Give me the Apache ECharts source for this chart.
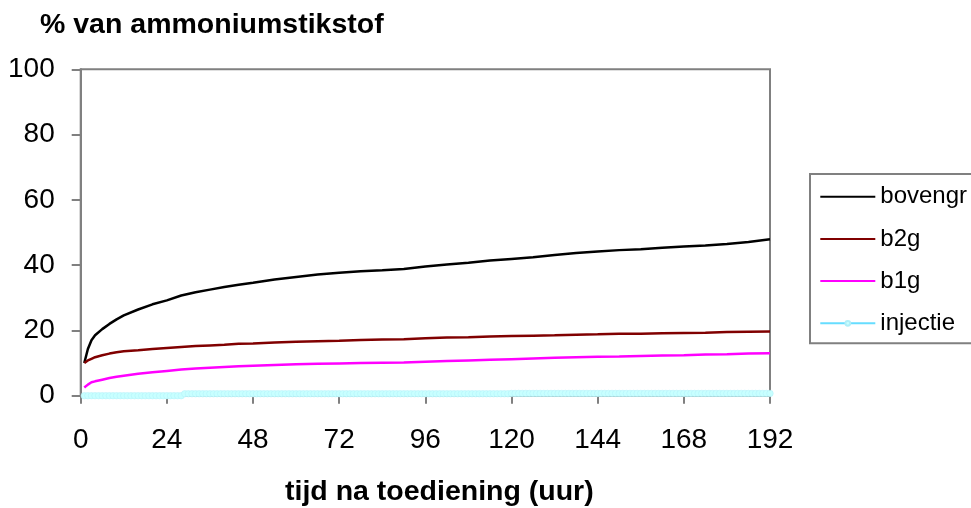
<!DOCTYPE html>
<html>
<head>
<meta charset="utf-8">
<script src="https://cdn.jsdelivr.net/npm/echarts@6/dist/echarts.min.js"></script>
<style>
html,body{margin:0;padding:0;background:#fff;}
#c{width:971px;height:508px;}
</style>
</head>
<body>
<div id="c"></div>
<script>
const hours = [1,2,3,4,6,8,10,12,16,20,24,28,32,36,40,44,48,54,60,66,72,78,84,90,96,102,108,114,120,126,132,138,144,150,156,162,168,174,180,186,192];
const bovengr = [10.0,14.3,17.0,18.5,20.4,22.0,23.4,24.6,26.4,28.0,29.2,30.7,31.7,32.5,33.3,34.0,34.6,35.6,36.4,37.1,37.7,38.1,38.4,38.8,39.6,40.2,40.7,41.4,41.9,42.4,43.1,43.7,44.2,44.6,44.9,45.3,45.7,46.0,46.5,47.1,47.9];
const b2g = [10.0,10.8,11.3,11.8,12.4,12.9,13.3,13.6,13.9,14.3,14.6,14.9,15.2,15.4,15.6,15.9,16.0,16.3,16.5,16.7,16.8,17.1,17.2,17.3,17.6,17.8,17.9,18.1,18.3,18.4,18.5,18.7,18.8,19.0,19.0,19.1,19.2,19.3,19.5,19.6,19.7];
const b1g = [2.5,3.4,4.1,4.4,4.9,5.4,5.8,6.1,6.7,7.2,7.6,8.0,8.3,8.6,8.8,9.0,9.2,9.4,9.6,9.8,9.9,10.0,10.1,10.2,10.4,10.6,10.8,11.0,11.2,11.4,11.6,11.8,11.9,12.0,12.2,12.3,12.4,12.6,12.7,12.9,13.0];
// injectie: hourly values, hour 1 .. 192
const injectie = [
0,0,0,0,0,0,0,0,0,0,
0,0,0,0,0,0,0,0,0,0,
0,0,0,0,0,0,0,0,
0.6,0.6,0.6,0.6,0.6,0.6,0.6,0.6,0.6,0.6,
0.6,0.6,0.6,0.6,0.6,0.6,0.6,0.6,0.6,0.6,
0.6,0.6,0.6,0.6,0.6,0.6,0.6,0.6,0.6,0.6,
0.6,0.6,0.6,0.6,0.6,0.6,0.6,0.6,0.6,0.6,
0.6,0.6,0.6,0.6,0.6,0.6,0.6,0.6,0.6,0.6,
0.6,0.6,0.6,0.6,0.6,0.6,0.6,0.6,0.6,0.6,
0.6,0.6,0.6,0.6,0.6,0.6,0.6,0.6,0.6,0.6,
0.6,0.6,0.6,0.6,0.6,0.6,0.6,0.6,0.6,0.6,
0.6,0.6,0.6,0.6,0.6,0.6,0.6,0.6,0.6,0.6,
0.6,
0.7,0.7,0.7,0.7,0.7,0.7,0.7,0.7,0.7,0.7,
0.7,0.7,0.7,0.7,0.7,0.7,0.7,0.7,0.7,0.7,
0.7,0.7,0.7,0.7,0.7,0.7,0.7,0.7,0.7,0.7,
0.7,0.7,0.7,0.7,0.7,0.7,0.7,0.7,0.7,0.7,
0.7,0.7,0.7,0.7,0.7,0.7,0.7,0.7,0.7,0.7,
0.7,0.7,0.7,0.7,0.7,0.7,0.7,0.7,0.7,0.7,
0.7,0.7,0.7,0.7,0.7,0.7,0.7,0.7,0.7,0.7,
0.7,0.7,0.7
];
const xTicks = {min: 0, max: 192, interval: 24};
const yTicks = {min: 0, max: 100, interval: 20};
const seriesNames = ['bovengr', 'b2g', 'b1g', 'injectie'];

const FONT = "'Liberation Sans', Arial, sans-serif";
const pair = (xs, ys) => ys.map((v, i) => [xs[i], v]);
const injPairs = injectie.map((v, i) => [i + 1, v]);

const chart = echarts.init(document.getElementById('c'), null, {renderer: 'canvas'});
chart.setOption({
  animation: false,
  backgroundColor: '#ffffff',
  title: {
    text: '% van ammoniumstikstof',
    left: 40, top: 11, padding: 0,
    textStyle: {fontFamily: FONT, fontWeight: 'bold', fontSize: 28.5, color: '#000', lineHeight: 28}
  },
  grid: {
    left: 80.7, right: 201, top: 69.3, bottom: 112.3,
    show: true, borderColor: '#808080', borderWidth: 2, backgroundColor: 'transparent',
    containLabel: false, outerBoundsMode: 'none'
  },
  legend: {
    left: 810, top: 174,
    orient: 'vertical',
    padding: [10.7, 40, 8, 9.3],
    itemGap: 18.2,
    itemWidth: 55, itemHeight: 6,
    borderColor: '#808080', borderWidth: 2,
    backgroundColor: '#fff',
    textStyle: {fontFamily: FONT, fontSize: 24, color: '#000', lineHeight: 24},
    data: [
      {name: seriesNames[0], itemStyle: {opacity: 0}},
      {name: seriesNames[1], itemStyle: {opacity: 0}},
      {name: seriesNames[2], itemStyle: {opacity: 0}},
      {name: seriesNames[3]}
    ]
  },
  xAxis: {
    type: 'value',
    min: xTicks.min, max: xTicks.max, interval: xTicks.interval,
    name: 'tijd na toediening (uur)',
    nameLocation: 'middle',
    nameGap: 82,
    nameTextStyle: {fontFamily: FONT, fontWeight: 'bold', fontSize: 28.5, color: '#000', lineHeight: 28, padding: [0, 0, 0, 28]},
    axisLine: {show: true, lineStyle: {color: '#808080', width: 2}},
    axisTick: {show: true, inside: false, length: 8, lineStyle: {color: '#808080', width: 2}},
    axisLabel: {fontFamily: FONT, fontSize: 28, color: '#000', margin: 31},
    splitLine: {show: false}
  },
  yAxis: {
    type: 'value',
    min: yTicks.min, max: yTicks.max, interval: yTicks.interval,
    axisLine: {show: true, lineStyle: {color: '#808080', width: 2}},
    axisTick: {show: true, inside: false, length: 9, lineStyle: {color: '#808080', width: 2}},
    axisLabel: {fontFamily: FONT, fontSize: 28, color: '#000', margin: 26},
    splitLine: {show: false}
  },
  series: [
    {name: seriesNames[0], type: 'line', data: pair(hours, bovengr), symbol: 'none',
     lineStyle: {color: '#000000', width: 2.5}, itemStyle: {color: '#000000'}},
    {name: seriesNames[1], type: 'line', data: pair(hours, b2g), symbol: 'none',
     lineStyle: {color: '#800000', width: 2.5}, itemStyle: {color: '#800000'}},
    {name: seriesNames[2], type: 'line', data: pair(hours, b1g), symbol: 'none',
     lineStyle: {color: '#ff00ff', width: 2.5}, itemStyle: {color: '#ff00ff'}},
    {name: seriesNames[3], type: 'line', data: injPairs, symbol: 'circle', symbolSize: 6.5, showSymbol: true,
     lineStyle: {color: '#66ddff', width: 2.5}, itemStyle: {color: '#c8ffff', borderColor: '#b0eef8', borderWidth: 0.5}}
  ]
});
</script>
</body>
</html>
